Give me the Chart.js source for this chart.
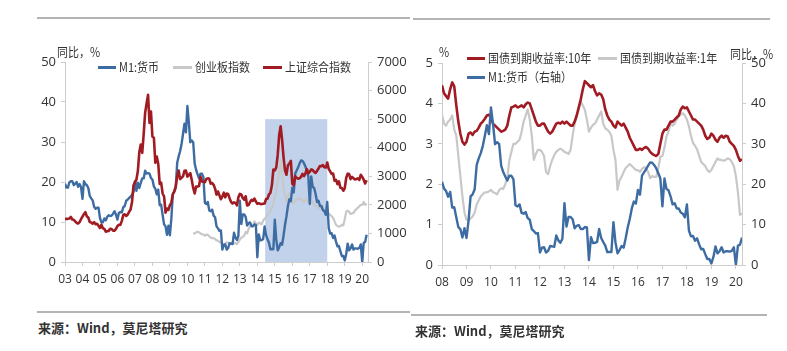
<!DOCTYPE html>
<html>
<head>
<meta charset="utf-8">
<script src="https://cdn.jsdelivr.net/npm/chart.js@4.4.1/dist/chart.umd.min.js"></script>
<style>
  body { margin: 0; background: #fff; }
  #page { position: relative; width: 787px; height: 351px; overflow: hidden; background: #fff;
          font-family: "Noto Sans CJK SC", sans-serif; }
  canvas { position: absolute; }
  .rule { position: absolute; height: 2px; background: #b4b4b4; }
  .txt { position: absolute; font-size: 12.5px; color: #333; white-space: nowrap; line-height: 14px;
         transform: scaleX(0.88); transform-origin: 0 0; }
  .key { position: absolute; height: 3px; }
  .src { position: absolute; font-size: 13px; color: #333; font-weight: bold; white-space: nowrap; }
</style>
</head>
<body>
<div id="page">
  <div class="rule" style="left:37px;top:17px;width:373px"></div>
  <div class="rule" style="left:413px;top:18px;width:357px"></div>

  <canvas id="left" width="405" height="255" style="left:10px;top:40px"></canvas>
  <canvas id="right" width="380" height="258" style="left:400px;top:40px"></canvas>

  <!-- left chart labels -->
  <div class="txt" style="left:57px;top:45px">同比，%</div>
  <div class="key" style="left:98px;top:66px;width:18px;background:#3d6ca3"></div>
  <div class="txt" style="left:119px;top:60px">M1:货币</div>
  <div class="key" style="left:173px;top:66px;width:19px;background:#c8c8c8"></div>
  <div class="txt" style="left:195px;top:60px">创业板指数</div>
  <div class="key" style="left:263px;top:66px;width:19px;background:#a01c22"></div>
  <div class="txt" style="left:285px;top:60px">上证综合指数</div>

  <!-- right chart labels -->
  <div class="txt" style="left:439px;top:45px">%</div>
  <div class="key" style="left:467px;top:57px;width:18px;background:#a01c22"></div>
  <div class="txt" style="left:488px;top:51px">国债到期收益率:10年</div>
  <div class="key" style="left:598px;top:57px;width:19px;background:#c8c8c8"></div>
  <div class="txt" style="left:620px;top:51px">国债到期收益率:1年</div>
  <div class="key" style="left:467px;top:76px;width:18px;background:#3d6ca3"></div>
  <div class="txt" style="left:488px;top:70px">M1:货币（右轴）</div>
  <div class="txt" style="left:730px;top:47px">同比，%</div>

  <div class="rule" style="left:37px;top:311px;width:373px"></div>
  <div class="rule" style="left:411px;top:314px;width:356px"></div>
  <div class="src" style="left:38px;top:318px">来源：Wind，莫尼塔研究</div>
  <div class="src" style="left:415px;top:321px">来源：Wind，莫尼塔研究</div>
</div>

<script>
// M1 yoy %, monthly 2003-01 .. 2020-04
var m1 = [
  19.6, 18.6, 18.6, 19.9, 20.2, 20.2, 19.2, 19.6, 20.0, 18.8, 19.5, 18.7,
  15.8, 20.2, 19.5, 19.2, 18.5, 16.5, 15.9, 15.4, 13.8, 13.3, 13.6, 13.6,
  11.0, 9.9, 9.9, 10.9, 10.4, 11.3, 11.7, 11.5, 11.6, 12.1, 12.7, 11.8,
  10.6, 12.3, 12.5, 12.4, 13.7, 14.0, 15.3, 15.6, 16.0, 16.3, 16.8, 17.5,
  20.2, 17.8, 19.8, 18.5, 19.8, 20.9, 20.9, 22.8, 22.1, 22.2, 22.1, 21.0,
  20.6, 18.9, 18.3, 16.9, 18.1, 14.2, 14.3, 11.8, 9.4, 8.9, 6.8, 9.1,
  6.7, 10.9, 17.0, 17.5, 18.7, 24.8, 26.4, 27.7, 29.5, 32.0, 34.6, 32.4,
  39.0, 34.9, 29.9, 30.4, 29.9, 24.6, 23.0, 21.9, 20.9, 22.1, 22.1, 21.2,
  14.8, 14.5, 15.0, 12.9, 12.7, 13.1, 11.6, 11.2, 8.9, 8.4, 7.8, 7.9,
  3.1, 4.3, 4.4, 3.1, 3.5, 4.7, 4.6, 4.5, 7.3, 6.1, 5.5, 6.5,
  15.3, 9.5, 11.9, 11.9, 11.3, 9.1, 9.7, 9.9, 8.9, 8.9, 9.4, 9.3,
  1.2, 6.9, 5.4, 5.5, 5.7, 8.9, 6.7, 5.7, 4.8, 3.2, 3.2, 3.2,
  10.6, 5.6, 2.9, 3.7, 4.7, 4.3, 6.6, 9.3, 11.4, 14.0, 15.7, 15.2,
  18.6, 17.4, 22.1, 22.9, 23.7, 24.6, 25.4, 25.3, 24.7, 23.9, 22.7, 21.4,
  14.5, 21.4, 18.8, 18.5, 17.0, 15.0, 15.3, 14.0, 14.0, 13.0, 12.7, 11.8,
  15.0, 8.5, 7.1, 7.2, 6.0, 6.6, 5.1, 3.9, 4.0, 2.7, 1.5, 1.5,
  0.4, 2.0, 4.6, 2.9, 3.4, 4.4, 3.1, 3.4, 3.4, 3.3, 3.5, 4.4,
  0.0, 4.8, 5.0, 6.8
];

// Shanghai composite, monthly 2003-01 .. 2020-04
var sse = [
  1500, 1512, 1511, 1521, 1576, 1487, 1477, 1421, 1367, 1348, 1397, 1497,
  1590, 1675, 1742, 1595, 1555, 1399, 1386, 1342, 1396, 1320, 1340, 1266,
  1191, 1306, 1181, 1159, 1060, 1080, 1083, 1162, 1155, 1092, 1099, 1161,
  1258, 1299, 1298, 1440, 1641, 1672, 1612, 1658, 1752, 1837, 2099, 2675,
  2786, 2881, 3183, 3841, 4109, 3820, 4471, 5218, 5552, 5850, 4871, 5262,
  4383, 4348, 3473, 3693, 3433, 2736, 2776, 2397, 2293, 1729, 1871, 1821,
  1991, 2082, 2373, 2477, 2633, 3000, 3200, 2900, 2950, 2996, 3195, 3200,
  2989, 3051, 3110, 2871, 2592, 2398, 2638, 2639, 2656, 2979, 2820, 2808,
  2790, 2905, 2928, 2911, 2743, 2762, 2701, 2568, 2359, 2468, 2333, 2199,
  2292, 2428, 2262, 2396, 2373, 2225, 2103, 2047, 2086, 2069, 1980, 2269,
  2385, 2365, 2237, 2178, 2301, 1979, 1994, 2098, 2175, 2141, 2220, 2116,
  2033, 2056, 2033, 2026, 2039, 2048, 2202, 2217, 2364, 2420, 2683, 3235,
  3210, 3310, 3748, 4442, 4750, 4277, 3664, 3206, 3053, 3383, 3446, 3539,
  2738, 2688, 3004, 2938, 2917, 2930, 2979, 3085, 3005, 3100, 3250, 3104,
  3159, 3242, 3223, 3155, 3117, 3192, 3273, 3361, 3349, 3393, 3317, 3307,
  3481, 3259, 3169, 3082, 3095, 2847, 2876, 2725, 2821, 2603, 2588, 2494,
  2585, 2941, 3091, 3078, 2899, 2979, 2933, 2886, 2905, 2929, 2872, 3050,
  2977, 2880, 2750, 2860
];

// ChiNext index, monthly 2010-05 .. 2020-04
var chinext = [
  980, 1010, 1030, 1060, 1040, 1000, 970, 960,
  920, 960, 950, 900, 860, 830, 840, 800, 760, 740, 700, 680,
  640, 620, 650, 690, 680, 650, 620, 640, 650, 660, 630, 700,
  780, 850, 880, 920, 1050, 1000, 1150, 1250, 1300, 1280, 1420, 1350,
  1300, 1380, 1350, 1320, 1450, 1520, 1560, 1650, 1720, 1780, 1900, 2050,
  2230, 2500, 2810, 3150, 3570, 3100, 2590, 2300, 2110, 2345, 2400, 2250,
  2110, 2050, 2150, 2200, 2180, 2230, 2200, 2150, 2100, 2150, 2200, 2100,
  2230, 2150, 2100, 2000, 1990, 1950, 1900, 1880, 1920, 1900, 1850, 1800,
  1760, 1700, 1650, 1600, 1550, 1420, 1300, 1260, 1235, 1250, 1300, 1280,
  1500, 1760, 1800, 1750, 1680, 1700, 1720, 1800, 1850, 1900, 1950, 2000,
  1995, 2100, 2000, 2050
];

// CGB yields %, monthly 2008-01 .. 2020-04
var cgb10 = [
  4.45, 4.25, 4.18, 4.12, 4.35, 4.52, 4.42, 3.95, 3.55, 3.25, 3.05, 2.98,
  3.05, 3.25, 3.28, 3.22, 3.30, 3.32, 3.40, 3.50, 3.55, 3.62, 3.70, 3.72,
  3.65, 3.50, 3.45, 3.40, 3.35, 3.30, 3.32, 3.35, 3.45, 3.70, 3.90, 3.92,
  3.95, 3.90, 3.92, 3.95, 3.90, 3.98, 4.02, 4.00, 3.85, 3.70, 3.55, 3.45,
  3.45, 3.50, 3.50, 3.40, 3.30, 3.25, 3.30, 3.40, 3.50, 3.52, 3.50, 3.55,
  3.50, 3.55, 3.50, 3.45, 3.45, 3.55, 3.70, 3.90, 4.10, 4.35, 4.55, 4.50,
  4.45, 4.40, 4.45, 4.30, 4.20, 4.25, 4.22, 4.10, 3.85, 3.70, 3.60, 3.55,
  3.45, 3.40, 3.55, 3.50, 3.45, 3.50, 3.40, 3.30, 3.15, 3.05, 2.95, 2.85,
  2.85, 2.88, 2.85, 2.90, 2.92, 2.88, 2.80, 2.75, 2.72, 2.70, 2.75, 3.00,
  3.25, 3.35, 3.35, 3.45, 3.55, 3.55, 3.60, 3.65, 3.70, 3.85, 3.92, 3.88,
  3.90, 3.80, 3.70, 3.60, 3.60, 3.55, 3.50, 3.45, 3.35, 3.20, 3.12, 3.15,
  3.25, 3.20, 3.10, 3.05, 3.15, 3.20, 3.15, 3.20, 3.18, 3.05, 3.00, 2.95,
  2.85, 2.70, 2.58, 2.62
];
var cgb1 = [
  3.72, 3.50, 3.45, 3.55, 3.60, 3.70, 3.35, 3.20, 2.70, 2.20, 1.70, 1.30,
  1.12, 1.10, 1.15, 1.20, 1.30, 1.50, 1.60, 1.70, 1.75, 1.80, 1.80, 1.82,
  1.86, 1.80, 1.78, 1.75, 1.85, 1.90, 1.88, 2.00, 2.15, 2.60, 2.80, 3.00,
  3.00, 3.05, 3.10, 3.30, 3.55, 3.70, 3.85, 3.60, 3.20, 2.60, 2.75, 2.85,
  2.85, 2.80, 2.70, 2.30, 2.25, 2.45, 2.60, 2.72, 2.80, 2.85, 2.88, 2.85,
  2.80, 2.78, 2.75, 2.85, 3.20, 3.50, 3.68, 3.85, 4.05, 3.95, 3.84, 3.60,
  3.30, 3.40, 3.47, 3.50, 3.60, 3.70, 3.80, 3.50, 3.38, 3.35, 3.30, 3.20,
  2.85, 2.60, 1.86, 2.10, 2.18, 2.30, 2.40, 2.45, 2.50, 2.45, 2.40, 2.35,
  2.35, 2.30, 2.38, 2.42, 2.40, 2.30, 2.15, 2.20, 2.18, 2.18, 2.40, 2.68,
  2.70, 2.90, 3.18, 3.30, 3.50, 3.45, 3.50, 3.60, 3.68, 3.72, 3.76, 3.70,
  3.60, 3.43, 3.20, 3.02, 2.95, 2.86, 2.70, 2.55, 2.50, 2.45, 2.35, 2.30,
  2.35, 2.45, 2.55, 2.64, 2.60, 2.60, 2.58, 2.60, 2.64, 2.62, 2.55, 2.45,
  2.20, 1.80, 1.24, 1.28
];

var leftYears = ['03','04','05','06','07','08','09','10','11','12','13','14','15','16','17','18','19','20'];
var rightYears = ['08','09','10','11','12','13','14','15','16','17','18','19','20'];

// shaded window on the left chart (years, right-axis index level)
var shadeFrom = 2014.45;
var shadeTo = 2018.0;
var shadeTop = 5000;

var BLUE = '#3d6ca3';
var RED = '#a01c22';
var GREY = '#c8c8c8';
var AXIS = '#cdcdcd';
var TICKFONT = { family: "'Open Sans', 'DejaVu Sans', sans-serif", size: 13 };

function monthly(values, year, month) {
  return values.map(function (v, i) {
    return { x: year + (month - 1 + i) / 12, y: v };
  });
}

function line(data, color, width, axis) {
  return {
    data: data, borderColor: color, borderWidth: width, yAxisID: axis,
    pointRadius: 0, tension: 0, fill: false, borderJoinStyle: 'round'
  };
}

function yearAxis(labels, first, max, height) {
  return {
    type: 'linear', min: first, max: max,
    afterBuildTicks: function (scale) {
      scale.ticks = labels.map(function (t, i) { return { value: first + i }; });
    },
    afterFit: function (scale) { scale.height = height; },
    ticks: {
      autoSkip: false, maxRotation: 0, padding: 6, color: '#333',
      font: { family: TICKFONT.family, size: 12 },
      callback: function (v, i) { return labels[i]; }
    },
    grid: { drawOnChartArea: false, drawTicks: true, tickLength: 4, color: AXIS },
    border: { color: AXIS }
  };
}

function valueAxis(pos, max, step, width) {
  return {
    position: pos, min: 0, max: max,
    afterFit: function (scale) { scale.width = width; },
    ticks: {
      stepSize: step, padding: 5, color: '#333', font: TICKFONT,
      callback: function (v) { return String(v); }
    },
    grid: { drawOnChartArea: false, drawTicks: true, tickLength: 4, color: AXIS },
    border: { color: AXIS }
  };
}

var shadePlugin = {
  id: 'shade',
  beforeDatasetsDraw: function (chart) {
    var x = chart.scales.x, y = chart.scales.y2, ctx = chart.ctx;
    var x0 = x.getPixelForValue(shadeFrom), x1 = x.getPixelForValue(shadeTo);
    var y0 = y.getPixelForValue(shadeTop), y1 = y.getPixelForValue(0);
    ctx.save();
    ctx.fillStyle = '#c2d2ea';
    ctx.fillRect(x0, y0, x1 - x0, y1 - y0);
    ctx.restore();
  }
};

var common = {
  responsive: false, animation: false, devicePixelRatio: 1,
  plugins: { legend: { display: false }, tooltip: { enabled: false } }
};

new Chart(document.getElementById('left'), {
  type: 'line',
  data: {
    datasets: [
      line(monthly(sse, 2003, 1), RED, 2.6, 'y2'),
      line(monthly(m1, 2003, 1), BLUE, 2.4, 'y'),
      line(monthly(chinext, 2010, 5), GREY, 2.2, 'y2')
    ]
  },
  options: Object.assign({}, common, {
    layout: { padding: { top: 22 } },
    scales: {
      x: yearAxis(leftYears, 2003, 2020.33, 33),
      y: valueAxis('left', 50, 10, 55),
      y2: valueAxis('right', 7000, 1000, 47)
    }
  }),
  plugins: [shadePlugin]
});

new Chart(document.getElementById('right'), {
  type: 'line',
  data: {
    datasets: [
      line(monthly(m1.slice(60), 2008, 1), BLUE, 2.4, 'y2'),
      line(monthly(cgb10, 2008, 1), RED, 2.6, 'y'),
      line(monthly(cgb1, 2008, 1), GREY, 2.2, 'y')
    ]
  },
  options: Object.assign({}, common, {
    layout: { padding: { top: 23 } },
    scales: {
      x: yearAxis(rightYears, 2008, 2020.25, 33),
      y: valueAxis('left', 5, 1, 42),
      y2: valueAxis('right', 50, 10, 38)
    }
  })
});
</script>
</body>
</html>
